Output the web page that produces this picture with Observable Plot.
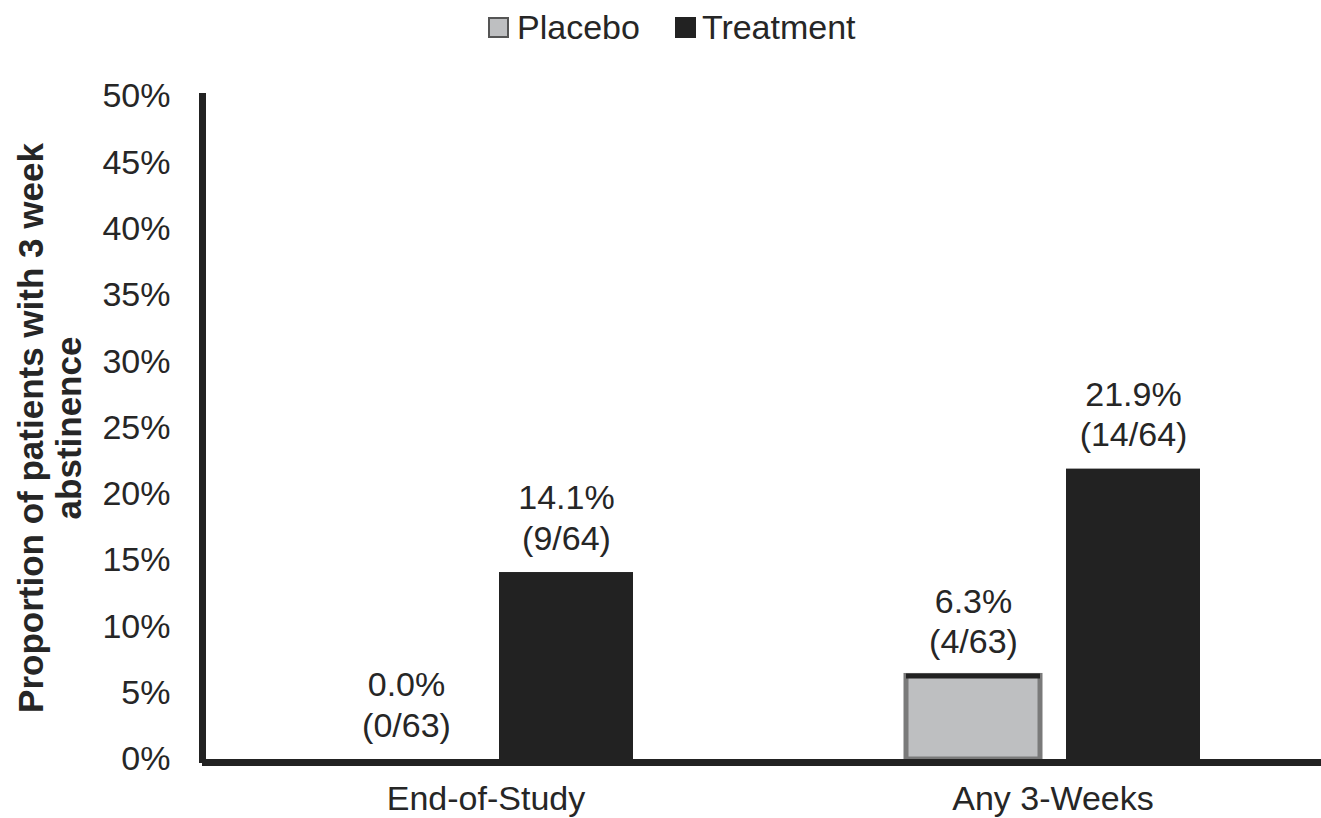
<!DOCTYPE html>
<html><head><meta charset="utf-8">
<script src="https://cdn.jsdelivr.net/npm/d3@7"></script>
<script src="https://cdn.jsdelivr.net/npm/@observablehq/plot@0.6"></script>
<style>
html,body{margin:0;padding:0;overflow:hidden;background:#fff;width:1321px;height:818px;}
#legend{height:55px;display:flex;align-items:center;font-family:"Liberation Sans",Arial,sans-serif;font-size:34px;color:#262626;padding-left:488px;box-sizing:border-box;white-space:nowrap;}
.sw{width:21px;height:21px;box-sizing:border-box;display:inline-block;flex:none;}
#chart{width:1321px;height:763px;overflow:hidden;}
#chart svg{max-width:none !important;display:block;}
</style></head><body>
<div id="legend"></div>
<div id="chart"></div>
<script>
const categories = ["End-of-Study", "Any 3-Weeks"];
const groups = ["Placebo", "Treatment"];
const placeboValues = [0.000, 0.063];
const treatmentValues = [0.141, 0.219];
const placeboLabels = ["0.0%", "6.3%"];
const treatmentLabels = ["14.1%", "21.9%"];
const placeboCounts = ["(0/63)", "(4/63)"];
const treatmentCounts = ["(9/64)", "(14/64)"];
const yTicks = [0, 0.05, 0.10, 0.15, 0.20, 0.25, 0.30, 0.35, 0.40, 0.45, 0.50];
const yTitle = "Proportion of patients with 3 week\nabstinence";
const fills = {Placebo: "#bebfc1", Treatment: "#222222"};

const rows = [];
categories.forEach((c, i) => {
  rows.push({category: c, group: "Placebo", value: placeboValues[i], label: placeboLabels[i], count: placeboCounts[i]});
  rows.push({category: c, group: "Treatment", value: treatmentValues[i], label: treatmentLabels[i], count: treatmentCounts[i]});
});

// legend
const legend = document.getElementById("legend");
groups.forEach((g, i) => {
  const sw = document.createElement("span");
  sw.className = "sw";
  sw.style.background = fills[g];
  sw.style.border = g === "Placebo" ? "2px solid #555" : "none";
  sw.style.marginLeft = i === 0 ? "0px" : "35px";
  const t = document.createElement("span");
  t.textContent = g;
  t.style.marginLeft = i === 0 ? "8px" : "6px";
  legend.appendChild(sw);
  legend.appendChild(t);
});

const font = '"Liberation Sans", Arial, sans-serif';
function build(superFrame) {
  return Plot.plot({
    width: 1336, height: 763,
    marginLeft: 202, marginRight: 0, marginTop: 41, marginBottom: 59,
    style: {fontFamily: font, fontSize: "34px", color: "#262626", background: "white", maxWidth: "none"},
    fx: {domain: categories, padding: 0, label: null},
    x: {domain: groups, paddingInner: 0.1625, paddingOuter: 0.853, axis: null},
    y: {domain: [0, 0.5], label: null},
    marks: [
      Plot.axisY({ticks: yTicks, tickFormat: d3.format(".0%"), tickSize: 0, tickPadding: 32, fontSize: 34, label: null}),
      Plot.axisFx({anchor: "bottom", tickSize: 0, tickPadding: 26, fontSize: 34, label: null}),
      superFrame
        ? Plot.frame({anchor: "left", facet: "super", stroke: "#222", strokeWidth: 7})
        : Plot.ruleX([{category: categories[0]}], {fx: "category", stroke: "#222", strokeWidth: 7, dx: -283.5}),
      Plot.barY(rows.filter(d => d.group === "Placebo" && d.value > 0), {fx: "category", x: "group", y: "value", fill: fills.Placebo, stroke: "#7a7a7a", strokeWidth: 5}),
      Plot.tickY(rows.filter(d => d.group === "Placebo" && d.value > 0), {fx: "category", x: "group", y: "value", stroke: "#222", strokeWidth: 5}),
      Plot.barY(rows.filter(d => d.group === "Treatment"), {fx: "category", x: "group", y: "value", fill: fills.Treatment}),
      Plot.ruleY([0], {stroke: "#222", strokeWidth: 7, dy: 3}),
      Plot.text(rows, {fx: "category", x: "group", y: "value", text: d => d.label + "\n" + d.count, lineAnchor: "bottom", dy: -23, lineHeight: 1.18, fontSize: 34, fill: "#262626"}),
      Plot.text([{category: categories[0], t: yTitle}], {fx: "category", text: "t", frameAnchor: "left", rotate: -90, dx: -153, fontWeight: "bold", fontSize: 35, lineHeight: 1.09, textAnchor: "middle", fill: "#262626"})
    ]
  });
}
let plot;
try { plot = build(true); } catch (e) { plot = build(false); }
document.getElementById("chart").appendChild(plot);
</script>
</body></html>
